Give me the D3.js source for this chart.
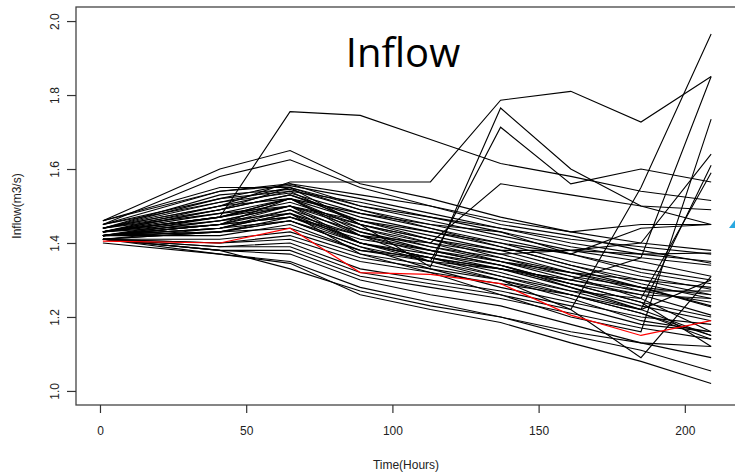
<!DOCTYPE html>
<html>
<head>
<meta charset="utf-8">
<script src="https://cdn.jsdelivr.net/npm/d3@7"></script>
<style>
  body { margin: 0; background: #fff; }
  text { font-family: "Liberation Sans", Arial, sans-serif; }
</style>
</head>
<body>
<div id="dataviz"></div>
<script>
// Time steps (hours)
var times = [1, 41, 65, 89, 113, 137, 161, 185, 209];

// Ensemble members, inflow (m3/s) at each time step
var members = [
    [1.43, 1.47, 1.755, 1.745, 1.68, 1.615, 1.58, 1.54, 1.515],
    [1.44, 1.50, 1.565, 1.565, 1.565, 1.786, 1.81, 1.727, 1.85],
    [1.43, 1.49, 1.55, 1.45, 1.335, 1.765, 1.60, 1.50, 1.45],
    [1.42, 1.47, 1.52, 1.42, 1.35, 1.713, 1.56, 1.60, 1.565],
    [1.46, 1.60, 1.65, 1.56, 1.52, 1.47, 1.43, 1.40, 1.38],
    [1.45, 1.58, 1.625, 1.55, 1.50, 1.45, 1.42, 1.38, 1.345],
    [1.43, 1.50, 1.54, 1.45, 1.40, 1.56, 1.53, 1.50, 1.49],
    [1.42, 1.45, 1.50, 1.40, 1.35, 1.30, 1.22, 1.55, 1.965],
    [1.41, 1.43, 1.47, 1.40, 1.36, 1.33, 1.30, 1.36, 1.85],
    [1.42, 1.44, 1.48, 1.37, 1.32, 1.26, 1.20, 1.16, 1.735],
    [1.43, 1.46, 1.50, 1.42, 1.40, 1.37, 1.38, 1.40, 1.64],
    [1.42, 1.45, 1.52, 1.43, 1.38, 1.34, 1.28, 1.22, 1.61],
    [1.41, 1.44, 1.49, 1.40, 1.36, 1.31, 1.27, 1.25, 1.59],
    [1.45, 1.54, 1.555, 1.52, 1.48, 1.44, 1.40, 1.37, 1.35],
    [1.46, 1.55, 1.55, 1.50, 1.46, 1.42, 1.38, 1.35, 1.31],
    [1.44, 1.53, 1.545, 1.49, 1.45, 1.41, 1.37, 1.33, 1.30],
    [1.45, 1.52, 1.54, 1.51, 1.47, 1.44, 1.41, 1.39, 1.37],
    [1.44, 1.51, 1.535, 1.48, 1.44, 1.40, 1.35, 1.31, 1.275],
    [1.46, 1.54, 1.56, 1.53, 1.50, 1.46, 1.43, 1.45, 1.45],
    [1.43, 1.49, 1.53, 1.47, 1.43, 1.39, 1.34, 1.29, 1.25],
    [1.44, 1.50, 1.52, 1.46, 1.42, 1.38, 1.33, 1.28, 1.227],
    [1.43, 1.47, 1.51, 1.45, 1.41, 1.37, 1.32, 1.27, 1.24],
    [1.42, 1.46, 1.50, 1.44, 1.40, 1.35, 1.30, 1.26, 1.205],
    [1.44, 1.48, 1.50, 1.46, 1.43, 1.40, 1.37, 1.32, 1.29],
    [1.42, 1.45, 1.49, 1.43, 1.39, 1.36, 1.31, 1.28, 1.26],
    [1.42, 1.46, 1.48, 1.42, 1.38, 1.34, 1.29, 1.24, 1.20],
    [1.43, 1.45, 1.47, 1.41, 1.38, 1.35, 1.31, 1.25, 1.16],
    [1.42, 1.44, 1.48, 1.40, 1.36, 1.32, 1.27, 1.22, 1.15],
    [1.41, 1.43, 1.46, 1.39, 1.35, 1.31, 1.26, 1.21, 1.14],
    [1.42, 1.45, 1.47, 1.42, 1.37, 1.33, 1.30, 1.27, 1.27],
    [1.43, 1.47, 1.50, 1.45, 1.41, 1.38, 1.38, 1.37, 1.373],
    [1.42, 1.44, 1.46, 1.40, 1.37, 1.34, 1.29, 1.24, 1.12],
    [1.41, 1.39, 1.40, 1.33, 1.30, 1.27, 1.23, 1.18, 1.16],
    [1.41, 1.38, 1.38, 1.31, 1.28, 1.25, 1.21, 1.17, 1.14],
    [1.41, 1.38, 1.37, 1.30, 1.26, 1.23, 1.18, 1.13, 1.09],
    [1.41, 1.37, 1.35, 1.28, 1.24, 1.20, 1.15, 1.11, 1.054],
    [1.40, 1.37, 1.345, 1.26, 1.22, 1.185, 1.13, 1.08, 1.02],
    [1.41, 1.38, 1.33, 1.27, 1.23, 1.20, 1.16, 1.13, 1.12],
    [1.41, 1.39, 1.39, 1.32, 1.29, 1.26, 1.22, 1.09, 1.31],
    [1.41, 1.40, 1.41, 1.35, 1.32, 1.29, 1.26, 1.21, 1.15],
    [1.41, 1.41, 1.43, 1.37, 1.34, 1.30, 1.25, 1.19, 1.16],
    [1.42, 1.42, 1.45, 1.38, 1.35, 1.33, 1.28, 1.23, 1.19],
    [1.42, 1.43, 1.46, 1.39, 1.33, 1.30, 1.26, 1.22, 1.30],
    [1.43, 1.48, 1.52, 1.48, 1.45, 1.43, 1.37, 1.44, 1.45],
    [1.45, 1.51, 1.55, 1.49, 1.44, 1.39, 1.34, 1.30, 1.26],
    [1.44, 1.49, 1.53, 1.46, 1.41, 1.36, 1.32, 1.28, 1.23],
    [1.43, 1.47, 1.52, 1.44, 1.39, 1.35, 1.32, 1.30, 1.28],
    [1.42, 1.43, 1.44, 1.38, 1.36, 1.33, 1.29, 1.26, 1.25],
    [1.41, 1.40, 1.42, 1.36, 1.33, 1.28, 1.24, 1.20, 1.18],
    [1.44, 1.52, 1.56, 1.50, 1.47, 1.43, 1.39, 1.36, 1.34]
];

// Highlighted (red) series
var observed = [1.405, 1.40, 1.44, 1.32, 1.315, 1.29, 1.205, 1.15, 1.19];

// Tick labels
var xTicks = [0, 50, 100, 150, 200];
var yTicks = [1.0, 1.2, 1.4, 1.6, 1.8, 2.0];

// Set svg dimensions
const width = 735;
const height = 473;
var plot = {left: 76, right: 736, top: 7, bottom: 405};

var svg = d3.select("#dataviz")
            .append("svg")
                .attr("width", width)
                .attr("height", height);

// Scales (R style padded domains)
var scaleX = d3.scaleLinear()
                .domain([-8.2, 217.5])
                .range([plot.left, plot.right]);

var scaleY = d3.scaleLinear()
                .domain([0.962, 2.038])
                .range([plot.bottom, plot.top]);

var line = d3.line()
            .x(function(d, i) { return scaleX(times[i]); })
            .y(function(d) { return scaleY(d); });

// Ensemble lines
svg.append("g")
    .selectAll("path")
    .data(members)
    .enter()
    .append("path")
        .attr("d", line)
        .attr("fill", "none")
        .attr("stroke", "#000")
        .attr("stroke-width", 1.1);

// Red series on top
svg.append("path")
    .datum(observed)
    .attr("d", line)
    .attr("fill", "none")
    .attr("stroke", "#ff0000")
    .attr("stroke-width", 1.2);

// Plot box
svg.append("rect")
    .attr("x", plot.left)
    .attr("y", plot.top)
    .attr("width", plot.right - plot.left)
    .attr("height", plot.bottom - plot.top)
    .attr("fill", "none")
    .attr("stroke", "#444")
    .attr("stroke-width", 1.3);

// X axis
var axisX = svg.append("g")
                .attr("transform", "translate(0," + plot.bottom + ")")
                .call(d3.axisBottom(scaleX).tickValues(xTicks).tickSize(8).tickPadding(13));

// Y axis
var axisY = svg.append("g")
                .attr("transform", "translate(" + plot.left + ",0)")
                .call(d3.axisLeft(scaleY).tickValues(yTicks).tickSize(9).tickFormat(d3.format(".1f")));

axisX.select(".domain").remove();
axisY.select(".domain").remove();
svg.selectAll(".tick line").attr("stroke", "#333").attr("stroke-width", 1.2);
svg.selectAll(".tick text")
    .attr("fill", "#222")
    .style("font-size", "12px")
    .style("font-family", "'Liberation Sans', Arial, sans-serif");

// Rotate y tick labels (R las=0)
axisY.selectAll(".tick text")
    .attr("x", null)
    .attr("text-anchor", "middle")
    .attr("transform", "translate(-21,0) rotate(-90)")
    .attr("dy", "0.35em");

// Axis titles
svg.append("text")
    .attr("x", (plot.left + plot.right) / 2)
    .attr("y", 469)
    .attr("text-anchor", "middle")
    .attr("fill", "#222")
    .style("font-size", "12px")
    .text("Time(Hours)");

svg.append("text")
    .attr("transform", "translate(21," + ((plot.top + plot.bottom) / 2) + ") rotate(-90)")
    .attr("text-anchor", "middle")
    .attr("fill", "#222")
    .style("font-size", "12px")
    .text("Inflow(m3/s)");

// Chart title
svg.append("text")
    .attr("x", 403)
    .attr("y", 67)
    .attr("text-anchor", "middle")
    .attr("fill", "#000")
    .style("font-family", "'Open Sans', sans-serif")
    .style("font-size", "40px")
    .text("Inflow");

// Small blue mark at the right edge
svg.append("path")
    .attr("d", "M729,228 L735,220 L735,228 Z")
    .attr("fill", "#29a8e0");
</script>
</body>
</html>
